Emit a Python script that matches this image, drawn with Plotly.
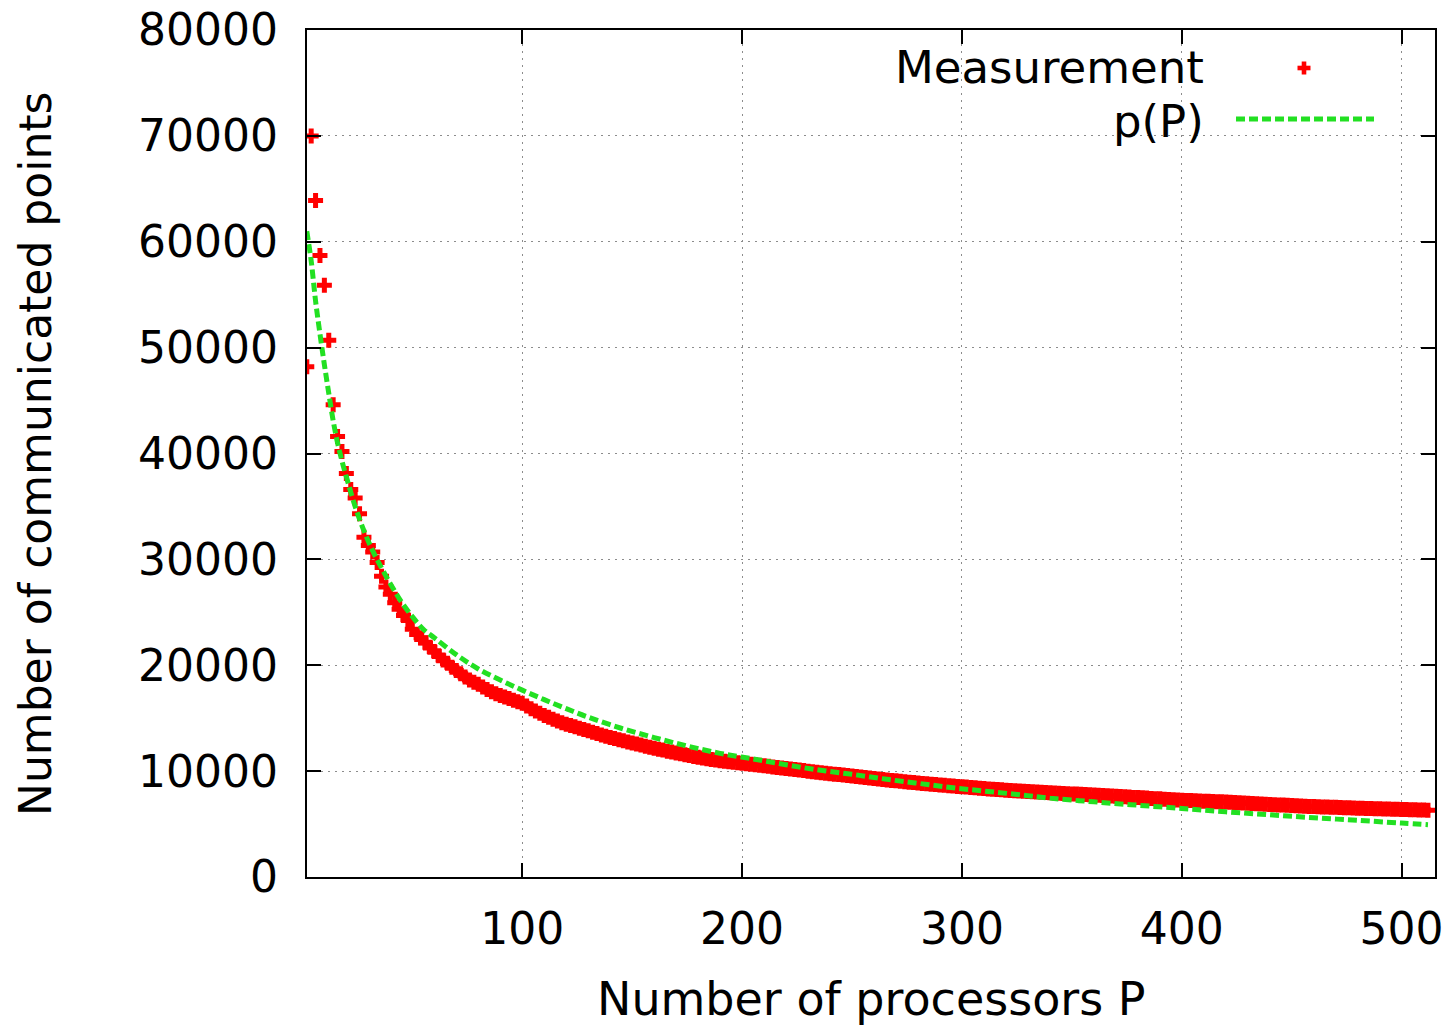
import plotly.graph_objects as go

# ---------------- data ----------------
P_meas = list(range(2, 513, 2))
measurement = [
    48200, 70000, 63900, 58700, 55900, 50700, 44600, 41600, 40200, 38100,
    36600, 35800, 34300, 32100, 31300, 30700, 29700, 28400, 27400, 26700,
    25900, 25300, 24700, 24300, 23400, 22900, 22600, 22100, 21700, 21300,
    20900, 20500, 20200, 19800, 19500, 19200, 18900, 18600, 18400, 18200,
    17950, 17700, 17500, 17300, 17150, 17000, 16850, 16700, 16550, 16400,
    16150, 15900, 15680, 15460, 15250, 15080, 14900, 14740, 14570, 14420,
    14300, 14180, 14050, 13930, 13810, 13680, 13560, 13420, 13300, 13170,
    13080, 12960, 12870, 12750, 12660, 12560, 12470, 12350, 12260, 12160,
    12070, 11990, 11880, 11800, 11710, 11640, 11550, 11470, 11390, 11310,
    11240, 11170, 11100, 11040, 10980, 10930, 10880, 10840, 10790, 10750,
    10700, 10650, 10600, 10550, 10500, 10450, 10400, 10350, 10300, 10250,
    10200, 10150, 10100, 10050, 10000, 9950, 9900, 9850, 9800, 9750,
    9710, 9670, 9630, 9590, 9550, 9500, 9450, 9400, 9350, 9300,
    9260, 9210, 9170, 9120, 9080, 9040, 9000, 8960, 8920, 8880,
    8840, 8800, 8770, 8730, 8690, 8660, 8620, 8590, 8550, 8520,
    8490, 8450, 8420, 8380, 8350, 8320, 8290, 8260, 8230, 8200,
    8180, 8150, 8130, 8100, 8080, 8050, 8030, 8000, 7980, 7950,
    7930, 7910, 7890, 7870, 7850, 7830, 7810, 7790, 7770, 7750,
    7720, 7700, 7670, 7650, 7620, 7600, 7570, 7550, 7520, 7500,
    7480, 7450, 7420, 7400, 7380, 7350, 7320, 7300, 7270, 7250,
    7230, 7220, 7200, 7180, 7160, 7150, 7130, 7110, 7100, 7080,
    7060, 7030, 7010, 6990, 6970, 6940, 6920, 6900, 6870, 6850,
    6830, 6810, 6790, 6770, 6750, 6730, 6710, 6690, 6670, 6650,
    6640, 6620, 6610, 6590, 6580, 6560, 6550, 6530, 6520, 6500,
    6490, 6480, 6470, 6450, 6440, 6430, 6420, 6410, 6400, 6380,
    6370, 6360, 6350, 6330, 6320, 6300,
]

P_fit = [2, 4, 6, 8, 10, 12, 14, 16, 18, 20, 24, 28, 32, 36, 40, 45, 50, 55, 60,
         70, 80, 90, 100, 110, 120, 130, 145, 160, 175, 190, 205, 220, 235, 250,
         265, 280, 295, 310, 325, 340, 360, 380, 400, 420, 440, 460, 480, 500, 512]
p_of_P = [61000, 58200, 54400, 51300, 48400, 45700, 43100, 41000, 39300, 37800,
          35000, 32700, 30800, 29200, 27700, 26000, 24600, 23400, 22600,
          21000, 19650, 18600, 17650, 16750, 15900, 15100, 14050, 13170, 12370,
          11680, 11150, 10600, 10100, 9700, 9250, 8850, 8450, 8120, 7800, 7450,
          7100, 6780, 6470, 6160, 5880, 5600, 5350, 5090, 4940]

x_ticks = [100, 200, 300, 400, 500]
y_ticks = [0, 10000, 20000, 30000, 40000, 50000, 60000, 70000, 80000]
x_range = [2.1, 515.2]
y_range = [0, 80000]

legend_labels = ["Measurement", "p(P)"]
x_title = "Number of processors P"
y_title = "Number of communicated points"

# ---------------- layout helpers ----------------
W, H = 1456, 1028
ML, MR, MT, MB = 307, 21, 30, 151
PW, PH = W - ML - MR, H - MT - MB


def px(xpix):
    return (xpix - ML) / PW


def py(ypix):
    return (H - MB - ypix) / PH


FONT = "DejaVu Sans"
RED = "#ff0000"
GREEN = "#22e022"

fig = go.Figure()
fig.add_trace(go.Scatter(
    x=P_meas, y=measurement, mode="markers", name=legend_labels[0],
    marker=dict(symbol="cross", size=12.5, color=RED, line=dict(width=0)),
    showlegend=False))
fig.add_trace(go.Scatter(
    x=P_fit, y=p_of_P, mode="lines", name=legend_labels[1],
    line=dict(color=GREEN, width=5, dash="9px,4px", shape="spline"),
    showlegend=False))

axis_common = dict(
    showline=True, linecolor="black", linewidth=2.2, mirror="ticks",
    ticks="inside", ticklen=14, tickwidth=2, tickcolor="black",
    showgrid=True, gridcolor="#8c8c8c", gridwidth=1.2, griddash="2px,5px",
    zeroline=False, tickfont=dict(family=FONT, size=44, color="black"),
)

fig.update_layout(
    width=W, height=H,
    margin=dict(l=ML, r=MR, t=MT, b=MB, autoexpand=False),
    paper_bgcolor="white", plot_bgcolor="white",
    xaxis=dict(range=x_range, tickmode="array", tickvals=x_ticks,
               ticktext=[str(v) for v in x_ticks], ticklabelstandoff=12,
               **axis_common),
    yaxis=dict(range=y_range, tickmode="array", tickvals=y_ticks,
               ticktext=[str(v) for v in y_ticks], ticklabelstandoff=18,
               **axis_common),
    showlegend=False,
)

# key area masks the grid (like gnuplot's key box)
fig.add_shape(type="rect", xref="paper", yref="paper", layer="between",
              x0=px(865), x1=px(1404), y0=py(141), y1=1,
              fillcolor="white", line=dict(width=0))

# key: text right-aligned, sample to the right
fig.add_annotation(text=legend_labels[0], xref="paper", yref="paper",
                   x=px(1206), y=py(67.5), xanchor="right", yanchor="middle",
                   showarrow=False, font=dict(family=FONT, size=45, color="black"))
fig.add_annotation(text=legend_labels[1], xref="paper", yref="paper",
                   x=px(1206), y=py(122), xanchor="right", yanchor="middle",
                   showarrow=False, font=dict(family=FONT, size=45, color="black"))
cx, cy, arm, th = 1304, 68, 6.5, 2.3
fig.add_shape(type="rect", xref="paper", yref="paper", layer="above",
              x0=px(cx - arm), x1=px(cx + arm), y0=py(cy + th), y1=py(cy - th),
              fillcolor=RED, line=dict(width=0))
fig.add_shape(type="rect", xref="paper", yref="paper", layer="above",
              x0=px(cx - th), x1=px(cx + th), y0=py(cy + arm), y1=py(cy - arm),
              fillcolor=RED, line=dict(width=0))
fig.add_shape(type="line", xref="paper", yref="paper", layer="above",
              x0=px(1236), x1=px(1374), y0=py(119), y1=py(119),
              line=dict(color=GREEN, width=5, dash="9px,4px"))

# axis titles
fig.add_annotation(text=x_title, xref="paper", yref="paper",
                   x=0.5, y=py(999), xanchor="center", yanchor="middle",
                   borderpad=0, showarrow=False,
                   font=dict(family=FONT, size=46, color="black"))
fig.add_annotation(text=y_title, xref="paper", yref="paper",
                   x=px(35), y=py(454), xanchor="center", yanchor="middle",
                   textangle=-90, showarrow=False,
                   font=dict(family=FONT, size=44, color="black"))

fig.write_html("out.html", config={"displayModeBar": False})

# remove the browser's default page margin so the figure sits at (0, 0)
with open("out.html", "r", encoding="utf-8") as f:
    html = f.read()
html = html.replace("<head>", "<head><style>html,body{margin:0;padding:0;overflow:hidden;}</style>", 1)
with open("out.html", "w", encoding="utf-8") as f:
    f.write(html)
